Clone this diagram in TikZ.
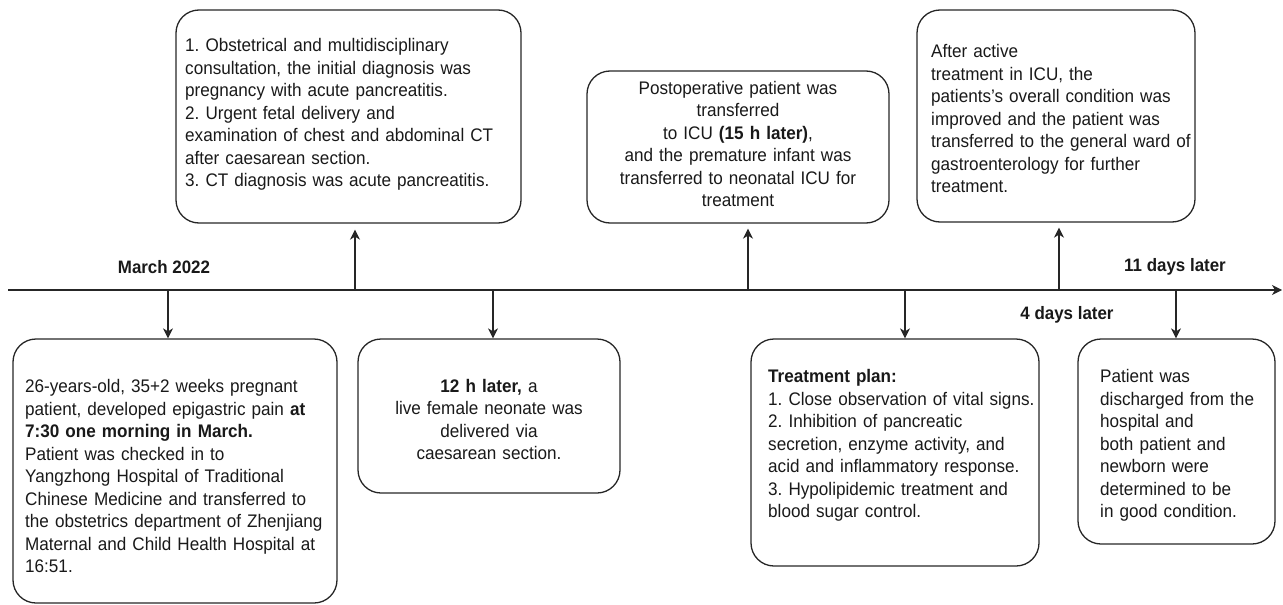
\documentclass[tikz,border=0pt]{standalone}
\usepackage{fontspec}
\setmainfont[FakeStretch=0.94]{Liberation Sans}
\usetikzlibrary{arrows.meta}
\frenchspacing
\tikzset{
  box/.style={draw=black!85, line width=1.3pt, rounded corners=23pt, inner sep=0pt},
  txt/.style={inner sep=0pt, font=\fontsize{18.2}{22.5}\selectfont, text=black!90},
  lbl/.style={inner sep=0pt, font=\fontsize{18}{20}\selectfont\bfseries, text=black!90},
  arr/.style={draw=black!85, line width=1.3pt, -{Stealth[length=10pt,width=10pt,inset=3pt]}},
}
\begin{document}
\begin{tikzpicture}[x=1pt,y=-1pt]
\useasboundingbox (0,0) rectangle (1283,605);

% boxes
\node[box, minimum width=345pt, minimum height=213pt] (b1) at (348.5,116.5) {};
\node[box, minimum width=302pt, minimum height=152pt] (b3) at (738,147) {};
\node[box, minimum width=278pt, minimum height=212pt] (b5) at (1056,116) {};
\node[box, minimum width=324pt, minimum height=264pt] (b2) at (175,471) {};
\node[box, minimum width=262pt, minimum height=154pt] (b4) at (489,416) {};
\node[box, minimum width=288pt, minimum height=227pt] (b6) at (895,452.5) {};
\node[box, minimum width=197pt, minimum height=205pt] (b7) at (1176.5,441.5) {};

% texts
\node[txt, anchor=west, text width=340pt, align=left] (t1) at (185,114.5) {1. Obstetrical and multidisciplinary\\consultation, the initial diagnosis was\\pregnancy with acute pancreatitis.\\2. Urgent fetal delivery and\\examination of chest and abdominal CT\\after caesarean section.\\3. CT diagnosis was acute pancreatitis.};
\node[txt, text width=296pt, align=center] (t3) at (738,144) {Postoperative patient was\\transferred\\to ICU \textbf{(15 h later)},\\and the premature infant was\\transferred to neonatal ICU for\\treatment};
\node[txt, anchor=west, text width=290pt, align=left] (t5) at (931,118.5) {After active\\treatment in ICU, the\\patients's overall condition was\\improved and the patient was\\transferred to the general ward of\\gastroenterology for further\\treatment.};
\node[txt, anchor=west, text width=330pt, align=left] (t2) at (25,476) {26-years-old, 35+2 weeks pregnant\\patient, developed epigastric pain \textbf{at}\\\textbf{7:30 one morning in March.}\\Patient was checked in to\\Yangzhong Hospital of Traditional\\Chinese Medicine and transferred to\\the obstetrics department of Zhenjiang\\Maternal and Child Health Hospital at\\16:51.};
\node[txt, text width=256pt, align=center] (t4) at (489,419.5) {\textbf{12 h later,} a\\live female neonate was\\delivered via\\caesarean section.};
\node[txt, anchor=west, text width=300pt, align=left] (t6) at (768,445.5) {\textbf{Treatment plan:}\\1. Close observation of vital signs.\\2. Inhibition of pancreatic\\secretion, enzyme activity, and\\acid and inflammatory response.\\3. Hypolipidemic treatment and\\blood sugar control.};
\node[txt, anchor=west, text width=190pt, align=left] (t7) at (1100,445.5) {Patient was\\discharged from the\\hospital and\\both patient and\\newborn were\\determined to be\\in good condition.};

% labels
\node[lbl] (m) at (164,267) {March 2022};
\node[lbl] (e) at (1175,267) {11 days later};
\node[lbl] (f) at (1067,315) {4 days later};

% timeline
\coordinate (ls) at (8,290);
\coordinate (le) at (1282,290);
\draw[arr] (ls) -- (le);

% up arrows
\coordinate (u1) at (355,290);
\coordinate (u3) at (748,290);
\coordinate (u5) at (1059,290);
\draw[arr, shorten >=6pt] (u1) -- (u1 |- b1.south);
\draw[arr, shorten >=5pt] (u3) -- (u3 |- b3.south);
\draw[arr, shorten >=5pt] (u5) -- (u5 |- b5.south);

% down arrows
\coordinate (d2) at (168,290);
\coordinate (d4) at (493,290);
\coordinate (d6) at (905,290);
\coordinate (d7) at (1176,290);
\draw[arr] (d2) -- (d2 |- b2.north);
\draw[arr] (d4) -- (d4 |- b4.north);
\draw[arr] (d6) -- (d6 |- b6.north);
\draw[arr] (d7) -- (d7 |- b7.north);
\end{tikzpicture}
\end{document}
